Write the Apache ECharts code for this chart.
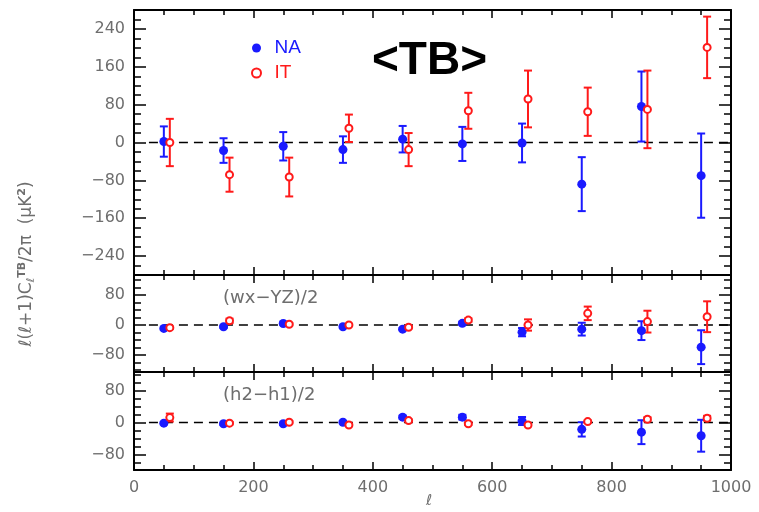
<!DOCTYPE html>
<html>
<head>
<meta charset="utf-8">
<script src="https://cdn.jsdelivr.net/npm/echarts@6/dist/echarts.min.js"></script>
<style>html,body{margin:0;padding:0;background:#fff}#c{width:759px;height:512px}</style>
</head>
<body>
<div id="c"></div>
<script>
// ---- data ----
const ellNA = [50, 150, 250, 350, 450, 550, 650, 750, 850, 950];
const ellIT = [60, 160, 260, 360, 460, 560, 660, 760, 860, 960];

// <TB> panel
const tbNA    = [2, -17, -8, -15, 7, -3, -1, -88, 76, -70];
const tbNAerr = [32, 26, 30, 28, 28, 36, 41, 57, 74, 89];
const tbIT    = [0, -68, -73, 30, -15, 67, 92, 65, 70, 201];
const tbITerr = [50, 36, 41, 29, 35, 38, 60, 51, 82, 65];

// (wx−YZ)/2 panel
const wxNA    = [-9, -4.5, 4, -4.5, -11, 4.5, -19, -11, -15, -59];
const wxNAerr = [3, 3, 3, 3, 3, 4, 11, 17, 25, 45];
const wxIT    = [-7, 11, 2, 0, -6, 13, 0, 31, 9, 22];
const wxITerr = [3, 6, 3, 3, 3, 5, 15, 18, 29, 41];

// (h2−h1)/2 panel
const hNA    = [-1.5, -3, -3, 1, 13.6, 13.6, 4, -17, -24, -33];
const hNAerr = [3, 3, 3, 3, 4, 6, 10, 18, 30, 40];
const hIT    = [12.6, -1.5, 1, -6, 5, -3, -6, 2.5, 8.5, 11];
const hITerr = [10, 3, 3, 3, 3, 3, 3, 3, 5, 6];

// ticks
const xTickLabels = [0, 200, 400, 600, 800, 1000];
const yTicksTop = [-240, -160, -80, 0, 80, 160, 240];
const yTicksSub = [-80, 0, 80];
const zeroLineExtent = [25, 1000];

// ---- layout/styles ----
const BLUE = '#1a1aff', RED = '#ff1a1a', GRAY = '#6e6e6e';
const FONT = 'DejaVu Sans';

const panels = [
  {top: 10, height: 265, min: -280, max: 280, major: yTicksTop, NA: tbNA, NAe: tbNAerr, IT: tbIT, ITe: tbITerr},
  {top: 275, height: 97, min: -125, max: 133, major: yTicksSub, NA: wxNA, NAe: wxNAerr, IT: wxIT, ITe: wxITerr},
  {top: 372, height: 98, min: -119, max: 127, major: yTicksSub, NA: hNA, NAe: hNAerr, IT: hIT, ITe: hITerr}
];

function minorTicks(min, max) {
  const out = [];
  for (let v = Math.ceil(min / 20) * 20; v <= max; v += 20) out.push(v);
  return out;
}
const fmt = v => v < 0 ? '\u2212' + Math.abs(v) : String(v);

const grid = [], xAxis = [], yAxis = [], series = [];

function errRender(color) {
  return function (params, api) {
    const x = api.value(0), v = api.value(1), e = api.value(2);
    const hi = api.coord([x, v + e]), lo = api.coord([x, v - e]);
    const hw = 4;
    const st = {stroke: color, lineWidth: 2};
    return {type: 'group', children: [
      {type: 'line', shape: {x1: hi[0], y1: hi[1], x2: lo[0], y2: lo[1]}, style: st},
      {type: 'line', shape: {x1: hi[0] - hw, y1: hi[1], x2: hi[0] + hw, y2: hi[1]}, style: st},
      {type: 'line', shape: {x1: lo[0] - hw, y1: lo[1], x2: lo[0] + hw, y2: lo[1]}, style: st}
    ]};
  };
}

panels.forEach((p, i) => {
  grid.push({left: 134, right: 28, top: p.top, height: p.height});
  ['bottom', 'top'].forEach(pos => {
    xAxis.push({
      gridIndex: i, type: 'value', min: 0, max: 1000, interval: 200, position: pos,
      axisLine: {show: true, onZero: false, lineStyle: {color: '#000', width: 2}},
      axisTick: {show: true, inside: true, length: 8, lineStyle: {color: '#000', width: 1.5}},
      minorTick: {show: true, splitNumber: 4, length: 5, lineStyle: {color: '#000', width: 1.5}},
      splitLine: {show: false}, minorSplitLine: {show: false},
      axisLabel: {show: (i === 2 && pos === 'bottom'), margin: 10, color: GRAY, fontSize: 16, fontFamily: FONT,
        customValues: xTickLabels, formatter: v => String(v)}
    });
  });
  const minors = minorTicks(p.min, p.max);
  ['left', 'right'].forEach(pos => {
    yAxis.push({
      gridIndex: i, type: 'value', min: p.min, max: p.max, position: pos,
      axisLine: {show: true, onZero: false, lineStyle: {color: '#000', width: 2}},
      axisTick: {show: true, inside: true, length: 12, customValues: p.major, lineStyle: {color: '#000', width: 1.5}},
      splitLine: {show: false},
      axisLabel: {show: pos === 'left', customValues: p.major, formatter: fmt, margin: 9, color: GRAY, fontSize: 16, fontFamily: FONT}
    });
    yAxis.push({
      gridIndex: i, type: 'value', min: p.min, max: p.max, position: pos,
      axisLine: {show: false, onZero: false},
      axisTick: {show: true, inside: true, length: 7, customValues: minors, lineStyle: {color: '#000', width: 1.5}},
      splitLine: {show: false},
      axisLabel: {show: false}
    });
  });
  const xi = 2 * i, yi = 4 * i;
  series.push({
    type: 'line', xAxisIndex: xi, yAxisIndex: yi, silent: true, symbol: 'none', z: 1,
    data: [[zeroLineExtent[0], 0], [zeroLineExtent[1], 0]],
    lineStyle: {color: '#000', width: 1.5, type: [9, 6]}
  });
  series.push({
    type: 'custom', name: 'NAerr', xAxisIndex: xi, yAxisIndex: yi, z: 3,
    renderItem: errRender(BLUE), encode: {x: 0, y: 1},
    data: ellNA.map((x, k) => [x, p.NA[k], p.NAe[k]])
  });
  series.push({
    type: 'custom', name: 'ITerr', xAxisIndex: xi, yAxisIndex: yi, z: 3,
    renderItem: errRender(RED), encode: {x: 0, y: 1},
    data: ellIT.map((x, k) => [x, p.IT[k], p.ITe[k]])
  });
  series.push({
    type: 'scatter', name: 'NA', xAxisIndex: xi, yAxisIndex: yi, z: 4,
    symbol: 'circle', symbolSize: 9, itemStyle: {color: BLUE, opacity: 1},
    data: ellNA.map((x, k) => [x, p.NA[k]])
  });
  series.push({
    type: 'scatter', name: 'IT', xAxisIndex: xi, yAxisIndex: yi, z: 4,
    symbol: 'circle', symbolSize: 7, itemStyle: {color: '#fff', borderColor: RED, borderWidth: 2, opacity: 1},
    data: ellIT.map((x, k) => [x, p.IT[k]])
  });
});

const chart = echarts.init(document.getElementById('c'), null, {renderer: 'canvas'});
chart.setOption({
  animation: false,
  backgroundColor: '#fff',
  grid, xAxis, yAxis, series,
  legend: {
    orient: 'vertical', left: 246, top: 33, itemGap: 5, itemWidth: 10, itemHeight: 9,
    selectedMode: false,
    data: [
      {name: 'NA', icon: 'circle', textStyle: {color: BLUE}},
      {name: 'IT', icon: 'circle', textStyle: {color: RED}}
    ],
    textStyle: {fontSize: 19, fontFamily: 'Liberation Sans', lineHeight: 20, padding: [0, 0, 0, 8]}
  },
  graphic: [
    {type: 'text', left: 372, top: 38, style: {text: '<TB>', fontSize: 46, fontWeight: 'bold', fontFamily: 'Liberation Sans', fill: '#000'}},
    {type: 'text', left: 223, top: 289, style: {text: '(wx\u2212YZ)/2', fontSize: 18, fontFamily: FONT, fill: GRAY}},
    {type: 'text', left: 223, top: 386, style: {text: '(h2\u2212h1)/2', fontSize: 18, fontFamily: FONT, fill: GRAY}},
    {type: 'text', left: 426, top: 494, style: {text: '\u2113', fontSize: 15, fontStyle: 'italic', fontFamily: FONT, fill: GRAY}},
    {type: 'text', x: 27, y: 264, rotation: Math.PI / 2,
      style: {
        text: '{n|\u2113(\u2113+1)C}{sub|\u2113}{sup|TB}{n|/2\u03c0  (\u03bcK}{sup|2}{n|)}',
        align: 'center', verticalAlign: 'middle', fill: GRAY,
        rich: {
          n: {fontSize: 17, fontFamily: FONT, fill: GRAY},
          sub: {fontSize: 11, fontFamily: FONT, fill: GRAY, padding: [8, 0, 0, 0]},
          sup: {fontSize: 11, fontFamily: FONT, fill: GRAY, fontWeight: 'bold', padding: [0, 0, 9, 0]}
        }
      }}
  ]
});
</script>
</body>
</html>
